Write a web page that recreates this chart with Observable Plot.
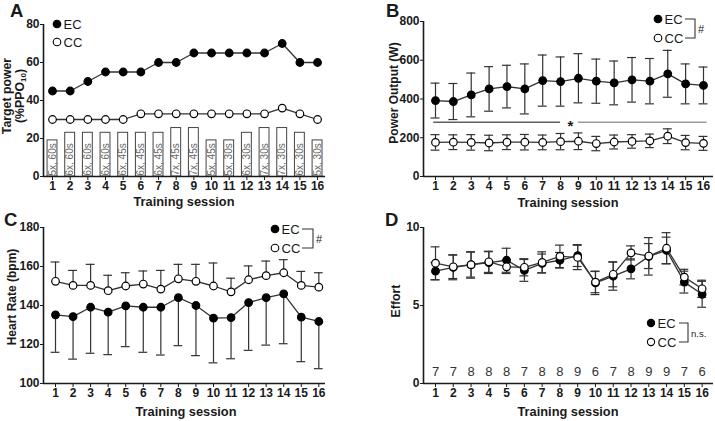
<!DOCTYPE html>
<html>
<head>
<meta charset="utf-8">
<script src="https://cdn.jsdelivr.net/npm/d3@7"></script>
<script src="https://cdn.jsdelivr.net/npm/@observablehq/plot@0.6"></script>
<style>
  html, body { margin: 0; padding: 0; background: #fff; }
  #fig { position: relative; width: 715px; height: 421px; overflow: hidden; font-family: "Liberation Sans", Arial, sans-serif; }
  .panel { position: absolute; }
  #overlay { position: absolute; left: 0; top: 0; pointer-events: none; }
</style>
</head>
<body>
<div id="fig">
  <div class="panel" id="pA" style="left:0px;top:0px"></div>
  <div class="panel" id="pB" style="left:355px;top:0px"></div>
  <div class="panel" id="pC" style="left:0px;top:210px"></div>
  <div class="panel" id="pD" style="left:355px;top:210px"></div>
</div>
<script>
// ---------- data ----------
const sessions = [1,2,3,4,5,6,7,8,9,10,11,12,13,14,15,16];

// Panel A: target power (%PPO10)
const targetEC = [45,45,50,55,55,55,60,60,65,65,65,65,65,70,60,60];
const targetCC = [30,30,30,30,30,33,33,33,33,33,33,33,33,36,33,30];
const barHeights = [19,23,23,23,23,23,23,25.5,25.5,19,19,23,25.5,25.5,23,19];
const barLabels = ["5x, 60s","6x, 60s","6x, 60s","6x, 60s","6x, 45s","6x, 45s","6x, 45s","7x, 45s","7x, 45s","5x, 45s","5x, 30s","6x, 30s","7x, 30s","7x, 30s","6x, 30s","5x, 30s"];

// Panel B: power output (W), mean and SD
const powerEC = [392,387,421,452,464,452,495,490,507,492,483,499,492,530,478,470];
const powerEC_sd = [90,93,113,115,110,129,132,127,127,114,113,115,117,121,103,95];
const powerCC = [176,177,176,173,177,177,176,180,182,170,178,181,184,208,175,171];
const powerCC_sd = [40,38,40,40,38,40,38,42,43,37,36,35,35,38,37,36];
const sigLevel = 280;
const sigSegments = [[0.9, 8.0], [9.0, 16.2]];
const sigStarAt = 8.55;

// Panel C: heart rate (bpm), mean and one-sided SD
const hrEC = [135.2,134.3,139.1,136.6,139.8,139.1,139.1,144,140,133.5,133.8,141.5,144,146,134,131.8];
const hrEC_low = [116,112.5,115.5,114.8,118.9,116,114.6,119.4,114.3,110.6,112.7,117,119.7,120.4,111.2,107.6];
const hrCC = [152.4,150.3,150.3,147.6,150,151,148.4,153.7,152.4,150,147,153.2,155.3,156.8,150.3,149.4];
const hrCC_high = [162.3,158,161.1,155.5,156.8,157.7,158,161.1,161.1,161.8,154,160.3,162.8,163.5,157.5,156.8];

// Panel D: effort, mean and SD
const effortEC = [7.2,7.45,7.6,7.75,7.9,7.25,7.7,7.9,8.2,6.45,6.88,7.35,8.15,8.53,6.5,5.72];
const effortEC_sd = [0.56,0.8,0.85,0.7,0.77,0.7,0.6,0.5,0.7,0.75,0.9,0.64,1.2,0.85,0.7,0.83];
const effortCC = [7.71,7.48,7.62,7.8,7.48,7.45,7.76,8.15,8.08,6.5,7.0,8.37,8.17,8.67,6.82,6.07];
const effortCC_sd = [1.05,0.75,0.8,0.68,0.43,0.55,0.68,0.72,0.78,0.68,0.8,0.45,0.8,1.0,0.5,0.55];
const effortN = [7,7,8,8,8,7,8,8,9,6,7,8,9,9,7,6];

// ---------- helpers ----------
const FONT = "Liberation Sans, Arial, sans-serif";
const INK = "#1a1a1a";
const LINE = "#333";

function basePlot({width, height, ml, mr, mt, mb, xDomain, yDomain, yTicks, marks}) {
  return Plot.plot({
    width, height,
    marginLeft: ml, marginRight: mr, marginTop: mt, marginBottom: mb,
    style: {fontFamily: FONT, fontSize: "12px", fontWeight: "bold", color: INK, background: "transparent", overflow: "visible"},
    x: {type: "linear", domain: xDomain, ticks: sessions, tickFormat: d => String(d), label: null, tickSize: 4, tickPadding: 1},
    y: {domain: yDomain, ticks: yTicks, label: null, tickSize: 3, tickPadding: 1},
    marks: [
      ...marks,
      Plot.ruleY([yDomain[0]], {stroke: INK, strokeWidth: 1.6}),
      Plot.ruleX([xDomain[0]], {stroke: INK, strokeWidth: 1.6})
    ]
  });
}

const CAP = 0.25;
function errorMarks(data, {both = true} = {}) {
  return [
    Plot.ruleX(data, {x: "s", y1: "lo", y2: "hi", stroke: LINE, strokeWidth: 1.2}),
    Plot.ruleY(data.filter(d => both || d.hiCap), {y: "hi", x1: d => d.s - CAP, x2: d => d.s + CAP, stroke: LINE, strokeWidth: 1.2}),
    Plot.ruleY(data.filter(d => both || d.loCap), {y: "lo", x1: d => d.s - CAP, x2: d => d.s + CAP, stroke: LINE, strokeWidth: 1.2})
  ];
}
function seriesMarks(data, filled) {
  return [
    Plot.line(data, {x: "s", y: "m", stroke: LINE, strokeWidth: 1.3}),
    Plot.dot(data, {x: "s", y: "m", r: 3.8, fill: filled ? "#000" : "#fff", stroke: "#000", strokeWidth: 1.2})
  ];
}

// ---------- Panel A ----------
const aEC = sessions.map((s, i) => ({s, m: targetEC[i]}));
const aCC = sessions.map((s, i) => ({s, m: targetCC[i]}));
const bars = sessions.map((s, i) => ({s, h: barHeights[i], label: barLabels[i]}));
document.getElementById("pA").append(basePlot({
  width: 355, height: 210, ml: 43, mr: 30, mt: 24, mb: 34,
  xDomain: [0.49, 16.45], yDomain: [0, 80], yTicks: [0, 20, 40, 60, 80],
  marks: [
    Plot.rectY(bars, {x1: d => d.s - 0.28, x2: d => d.s + 0.28, y: "h", fill: "#fff", stroke: "#444", strokeWidth: 1}),
    Plot.text(bars, {x: "s", y: 0, text: "label", rotate: -90, textAnchor: "start", dy: -1, fontSize: 10, fontWeight: "normal", fill: "#666"}),
    ...seriesMarks(aEC, true),
    ...seriesMarks(aCC, false)
  ]
}));

// ---------- Panel B ----------
const bEC = sessions.map((s, i) => ({s, m: powerEC[i], lo: powerEC[i] - powerEC_sd[i], hi: powerEC[i] + powerEC_sd[i]}));
const bCC = sessions.map((s, i) => ({s, m: powerCC[i], lo: powerCC[i] - powerCC_sd[i], hi: powerCC[i] + powerCC_sd[i]}));
const sig = sigSegments.map(([a, b], i) => ({a, b, y: sigLevel, part: i}));
document.getElementById("pB").append(basePlot({
  width: 360, height: 210, ml: 68, mr: 2, mt: 21, mb: 34,
  xDomain: [0.3285, 16.56], yDomain: [0, 800], yTicks: [0, 200, 400, 600, 800],
  marks: [
    Plot.ruleY(sig, {y: "y", x1: "a", x2: "b", stroke: d => d.part === 0 ? "#606060" : "#9a9a9a", strokeWidth: 1.3}),
    Plot.text([{x: sigStarAt, y: sigLevel}], {x: "x", y: "y", text: () => "*", fontSize: 15, dy: 4}),
    ...errorMarks(bEC), ...errorMarks(bCC),
    ...seriesMarks(bEC, true),
    ...seriesMarks(bCC, false)
  ]
}));

// ---------- Panel C ----------
const cEC = sessions.map((s, i) => ({s, m: hrEC[i], lo: hrEC_low[i], hi: hrEC[i], loCap: true}));
const cCC = sessions.map((s, i) => ({s, m: hrCC[i], lo: hrCC[i], hi: hrCC_high[i], hiCap: true}));
document.getElementById("pC").append(basePlot({
  width: 355, height: 211, ml: 43, mr: 30, mt: 17, mb: 38,
  xDomain: [0.316, 16.38], yDomain: [100, 180], yTicks: [100, 120, 140, 160, 180],
  marks: [
    ...errorMarks(cEC, {both: false}), ...errorMarks(cCC, {both: false}),
    ...seriesMarks(cEC, true),
    ...seriesMarks(cCC, false)
  ]
}));

// ---------- Panel D ----------
const dEC = sessions.map((s, i) => ({s, m: effortEC[i], lo: effortEC[i] - effortEC_sd[i], hi: effortEC[i] + effortEC_sd[i]}));
const dCC = sessions.map((s, i) => ({s, m: effortCC[i], lo: effortCC[i] - effortCC_sd[i], hi: effortCC[i] + effortCC_sd[i]}));
const counts = sessions.map((s, i) => ({s, n: effortN[i]}));
document.getElementById("pD").append(basePlot({
  width: 360, height: 211, ml: 68, mr: 2, mt: 17, mb: 38,
  xDomain: [0.325, 16.64], yDomain: [0, 10], yTicks: [0, 5, 10],
  marks: [
    Plot.text(counts, {x: "s", y: 0.72, text: d => String(d.n), fontSize: 13, fontWeight: "normal", fill: "#333"}),
    ...errorMarks(dEC), ...errorMarks(dCC),
    ...seriesMarks(dEC, true),
    ...seriesMarks(dCC, false)
  ]
}));

// ---------- annotations (letters, axis titles, legends) ----------
const svg = d3.select("#fig").append("svg").attr("id", "overlay")
  .attr("width", 715).attr("height", 421)
  .style("font-family", FONT).style("fill", INK);

const letters = [["A", 10, 17], ["B", 386, 17], ["C", 4, 226], ["D", 385, 226]];
letters.forEach(([t, x, y]) => svg.append("text").attr("x", x).attr("y", y)
  .attr("font-size", 18.5).attr("font-weight", "bold").text(t));

const xTitles = [[184, 206], [568, 207], [186, 416], [568, 416]];
xTitles.forEach(([x, y]) => svg.append("text").attr("x", x).attr("y", y)
  .attr("text-anchor", "middle").attr("font-size", 12.8).attr("font-weight", "bold").text("Training session"));

function yTitle(x, y, parts, size = 12.3) {
  const t = svg.append("text").attr("transform", `translate(${x},${y}) rotate(-90)`)
    .attr("text-anchor", "middle").attr("dominant-baseline", "central")
    .attr("font-size", size).attr("font-weight", "bold");
  parts.forEach(p => {
    const s = t.append("tspan").text(p.text);
    if (p.sub) s.attr("font-size", 8).attr("dy", 3);
    if (p.after) s.attr("dy", -3);
  });
}
yTitle(7, 96, [{text: "Target power"}]);
yTitle(20, 96, [{text: "(%PPO"}, {text: "10", sub: true}, {text: ")", after: true}]);
yTitle(394, 93, [{text: "Power Output (W)"}], 12);
yTitle(12, 297, [{text: "Heart  Rate (bpm)"}], 12);
yTitle(396, 301, [{text: "Effort"}]);

function legend(cx, y1, y2, r, bracket, mark, markSize) {
  [[y1, "#000", "EC"], [y2, "#fff", "CC"]].forEach(([cy, fill, lab]) => {
    svg.append("circle").attr("cx", cx).attr("cy", cy).attr("r", r)
      .attr("fill", fill).attr("stroke", "#000").attr("stroke-width", 1.1);
    svg.append("text").attr("x", cx + 6.5).attr("y", cy + 4.6)
      .attr("font-size", 13).text(lab);
  });
  if (bracket) {
    const [bx0, bx1] = bracket;
    svg.append("path").attr("d", `M${bx0},${y1}H${bx1}V${y2}H${bx0}`)
      .attr("fill", "none").attr("stroke", "#333").attr("stroke-width", 1.1);
    svg.append("text").attr("x", bx1 + 3).attr("y", (y1 + y2) / 2 + 4)
      .attr("font-size", markSize).text(mark);
  }
}
legend(57, 24, 42, 3.8, null);
legend(658, 19, 38, 3.8, [685, 695], "#", 11);
legend(275, 229, 248, 3.8, [302, 313], "#", 11);
legend(651, 323, 342, 3.6, [679, 688], "n.s.", 9.5);
</script>
</body>
</html>
